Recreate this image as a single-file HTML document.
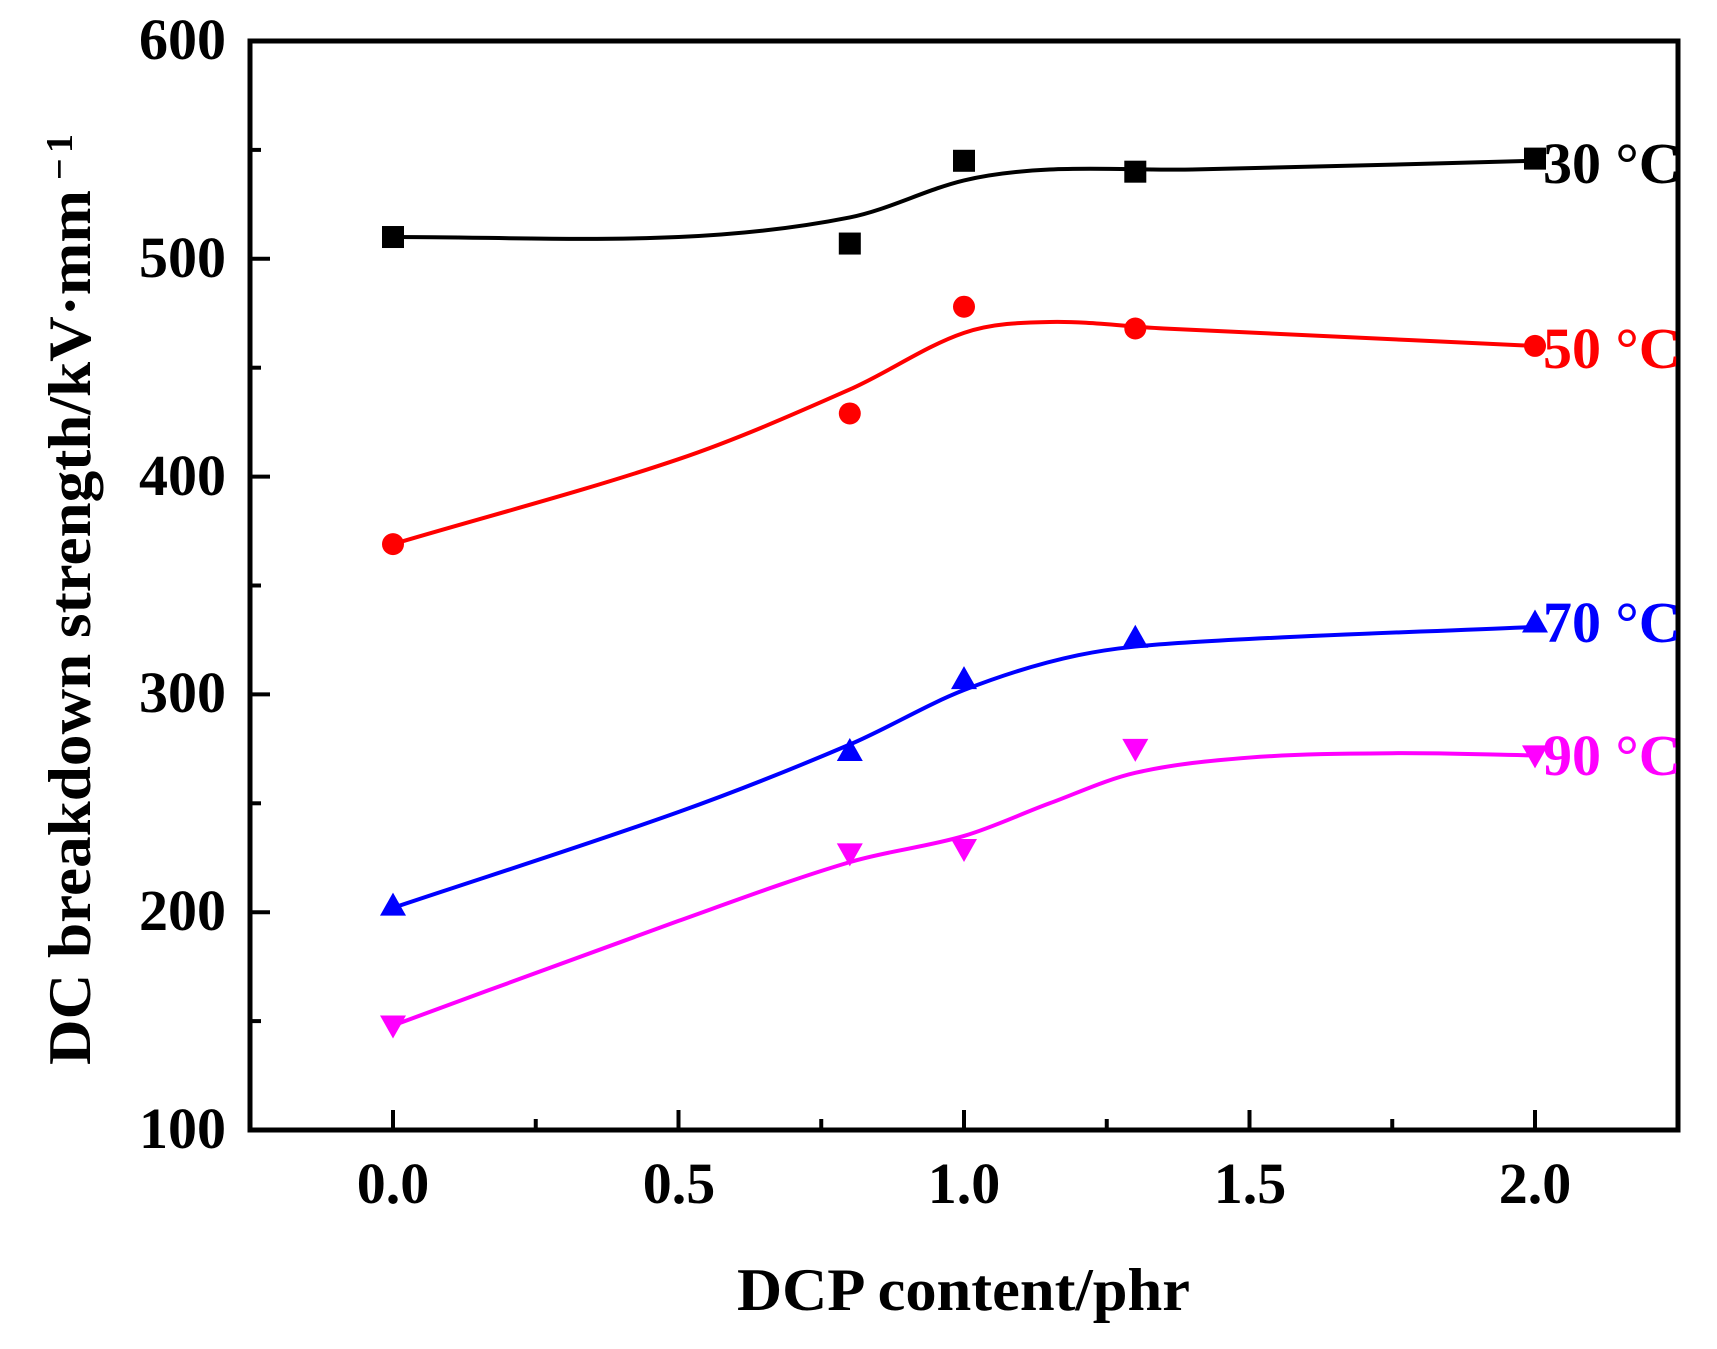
<!DOCTYPE html>
<html><head><meta charset="utf-8"><style>
html,body{margin:0;padding:0;background:#fff;}
svg{display:block;font-family:"Liberation Serif",serif;font-weight:bold;}
</style></head><body>
<svg id="s" width="1717" height="1349" viewBox="0 0 1717 1349" xmlns="http://www.w3.org/2000/svg">
<rect width="1717" height="1349" fill="#fff"/>
<g id="g"></g>
<rect x="250" y="41" width="1428" height="1089" fill="none" stroke="#000" stroke-width="5"/>
<g font-size="58" text-anchor="end" fill="#000">
<text x="226" y="59">600</text>
<text x="226" y="277">500</text>
<text x="226" y="495">400</text>
<text x="226" y="712">300</text>
<text x="226" y="930">200</text>
<text x="226" y="1148">100</text>
</g>
<g font-size="58" text-anchor="middle" fill="#000">
<text x="393" y="1203">0.0</text>
<text x="679" y="1203">0.5</text>
<text x="964" y="1203">1.0</text>
<text x="1250" y="1203">1.5</text>
<text x="1535" y="1203">2.0</text>
</g>
<text x="737" y="1310" font-size="60" textLength="453" lengthAdjust="spacingAndGlyphs">DCP content/phr</text>
<text transform="translate(90,1065) rotate(-90)" font-size="60" textLength="875" lengthAdjust="spacingAndGlyphs">DC breakdown strength/kV·mm</text>
<text transform="translate(72,180) rotate(-90)" font-size="38" textLength="46" lengthAdjust="spacing">−1</text>
<g font-size="58">
<text x="1543" y="183" fill="#000">30 °C</text>
<text x="1543" y="368" fill="#ff0000">50 °C</text>
<text x="1543" y="642" fill="#0000ff">70 °C</text>
<text x="1543" y="775" fill="#ff00ff">90 °C</text>
</g>
</svg>
<script>
const X=v=>393+v*571, Y=v=>41+(600-v)*2.178;
const g=document.getElementById('g');let h='';
for(let v=150;v<600;v+=50){const y=Y(v);const L=(v%100==0)?20:11;h+=`<line x1="250" x2="${250+L}" y1="${y}" y2="${y}" stroke="#000" stroke-width="4"/>`;}
for(let v=0;v<=2.01;v+=0.25){const x=X(v);const L=(Math.abs(v*2-Math.round(v*2))<0.01)?20:11;h+=`<line x1="${x}" x2="${x}" y1="1130" y2="${1130-L}" stroke="#000" stroke-width="4"/>`;}
function cr(p){const n=p.length,m=[];for(let i=0;i<n;i++){const a=p[Math.max(0,i-1)],b=p[Math.min(n-1,i+1)];m.push((b[1]-a[1])/(b[0]-a[0]));}
let d=`M${X(p[0][0])},${Y(p[0][1])}`;for(let i=0;i<n-1;i++){const dx=p[i+1][0]-p[i][0];
d+=` C${X(p[i][0]+dx/3)},${Y(p[i][1]+m[i]*dx/3)} ${X(p[i+1][0]-dx/3)},${Y(p[i+1][1]-m[i+1]*dx/3)} ${X(p[i+1][0])},${Y(p[i+1][1])}`;}return d;}
const S=[
 {c:'#000',m:'s',d:[[0,510],[0.8,507],[1,545],[1.3,540],[2,546]],f:[[0,510],[0.5,510],[0.8,519],[1.0,536],[1.15,541],[1.4,541],[2,545]]},
 {c:'#ff0000',m:'c',d:[[0,369],[0.8,429],[1,478],[1.3,468],[2,460]],f:[[0,369],[0.5,408],[0.8,440],[1.0,466],[1.15,471],[1.35,468],[2,460]]},
 {c:'#0000ff',m:'u',d:[[0,203],[0.8,274],[1,307],[1.3,326],[2,333]],f:[[0,202],[0.5,246],[0.8,277],[1.0,302],[1.2,318],[1.4,324],[2,331]]},
 {c:'#ff00ff',m:'d',d:[[0,148],[0.8,227],[1,229],[1.3,275],[2,272]],f:[[0,148],[0.5,196],[0.8,223],[1.0,235],[1.15,250],[1.3,264],[1.5,271],[1.75,273],[2,272]]}];
for(const s of S){h+=`<path d="${cr(s.f)}" fill="none" stroke="${s.c}" stroke-width="4"/>`;
for(const q of s.d){const x=X(q[0]),y=Y(q[1]);
 if(s.m=='s')h+=`<rect x="${x-11}" y="${y-11}" width="22" height="22" fill="${s.c}"/>`;
 else if(s.m=='c')h+=`<circle cx="${x}" cy="${y}" r="11" fill="${s.c}"/>`;
 else if(s.m=='u')h+=`<polygon points="${x},${y-13} ${x-13},${y+10} ${x+13},${y+10}" fill="${s.c}"/>`;
 else h+=`<polygon points="${x},${y+13} ${x-13},${y-10} ${x+13},${y-10}" fill="${s.c}"/>`;}}
g.innerHTML=h;
</script>
</body></html>
